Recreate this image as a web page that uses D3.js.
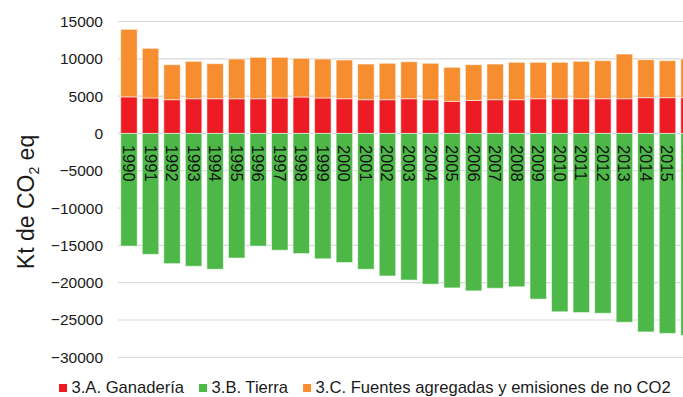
<!DOCTYPE html>
<html>
<head>
<meta charset="utf-8">
<script src="https://cdn.jsdelivr.net/npm/d3@7"></script>
<style>
  html, body { margin: 0; padding: 0; background: #fff; }
  svg { display: block; font-family: "Liberation Sans", Arial, sans-serif; }
</style>
</head>
<body>
<svg id="chart" width="683" height="397"></svg>
<script>
// Agricultural sector emissions/removals by sub-category (kt CO2 eq)
const years = ["1990","1991","1992","1993","1994","1995","1996","1997","1998","1999",
               "2000","2001","2002","2003","2004","2005","2006","2007","2008","2009",
               "2010","2011","2012","2013","2014","2015","2016"];
const ganaderia = [4900,4750,4520,4650,4650,4650,4650,4750,4880,4750,
                   4650,4520,4520,4650,4520,4300,4430,4520,4520,4650,
                   4650,4650,4650,4650,4790,4790,4790];
const tierra = [-15100,-16200,-17450,-17800,-18200,-16700,-15100,-15650,-16100,-16800,
                -17300,-18200,-19100,-19650,-20200,-20700,-21100,-20750,-20550,-22200,
                -23900,-24000,-24100,-25300,-26600,-26800,-27050];
const fuentes = [9050,6650,4690,5010,4700,5320,5550,5450,5180,5220,
                 5190,4780,4880,4960,4880,4560,4780,4780,5010,4880,
                 4880,5010,5100,5990,5090,4960,5180];
const seriesNames = ["3.A. Ganadería", "3.B. Tierra", "3.C. Fuentes agregadas y emisiones de no CO2"];
const yTicks = [15000,10000,5000,0,-5000,-10000,-15000,-20000,-25000,-30000];

const colors = ["#ED1C24", "#4DB848", "#F68E2F"];
const keys = ["a", "b", "c"];
const rows = years.map((y, i) => ({ year: y, a: ganaderia[i], b: tierra[i], c: fuentes[i] }));

const svg = d3.select("#chart");

const x = d3.scaleBand()
  .domain(years)
  .range([118.2, 699.8])
  .paddingInner(0.234)
  .paddingOuter(0.117);

const y = d3.scaleLinear()
  .domain([-30000, 15000])
  .range([357.3, 21.5]);

// gridlines
svg.append("g")
  .selectAll("line")
  .data(yTicks)
  .join("line")
  .attr("x1", 118)
  .attr("x2", 683)
  .attr("y1", d => y(d))
  .attr("y2", d => y(d))
  .attr("stroke", "#d9d9d9")
  .attr("stroke-width", 1.2);

// y axis labels
const yAxis = d3.axisLeft(y).tickValues(yTicks).tickSize(0).tickPadding(0).tickFormat(d3.format("d"));
const gy = svg.append("g").attr("transform", "translate(103,0)").call(yAxis);
gy.select(".domain").remove();
gy.selectAll("text")
  .attr("font-size", "15.5px")
  .attr("font-family", "'Liberation Sans', Arial, sans-serif")
  .attr("fill", "#1a1a1a");

// stacked bars
const stack = d3.stack().keys(keys).offset(d3.stackOffsetDiverging);
const layers = stack(rows);

svg.append("g")
  .selectAll("g")
  .data(layers)
  .join("g")
  .attr("fill", (d, i) => colors[i])
  .selectAll("rect")
  .data(d => d)
  .join("rect")
  .attr("x", d => x(d.data.year))
  .attr("width", x.bandwidth())
  .attr("y", d => y(d[1]))
  .attr("height", d => y(d[0]) - y(d[1]))
  .attr("stroke", "#ffffff")
  .attr("stroke-opacity", 0.55)
  .attr("stroke-width", 1);

// year labels inside the negative bars
svg.append("g")
  .selectAll("text")
  .data(years)
  .join("text")
  .attr("transform", d => `translate(${x(d) + x.bandwidth() / 2},${y(0) + 11.5}) rotate(90)`)
  .attr("dominant-baseline", "central")
  .attr("font-size", "16.5px")
  .attr("fill", "#111")
  .text(d => d);

// y axis title
const title = svg.append("text")
  .attr("transform", "translate(34,202) rotate(-90)")
  .attr("text-anchor", "middle")
  .attr("font-size", "23px")
  .attr("fill", "#1a1a1a");
title.append("tspan").text("Kt de CO");
title.append("tspan").attr("font-size", "14px").attr("dy", "5").text("2");
title.append("tspan").attr("dy", "-5").text(" eq");

// legend
const legend = svg.append("g").attr("transform", "translate(59,387.5)");
let lx = 0;
seriesNames.forEach((name, i) => {
  legend.append("rect")
    .attr("x", lx)
    .attr("y", -3.5)
    .attr("width", 8)
    .attr("height", 8)
    .attr("fill", colors[i]);
  const t = legend.append("text")
    .attr("x", lx + 12.5)
    .attr("y", 0)
    .attr("dominant-baseline", "central")
    .attr("font-size", "16.6px")
    .attr("fill", "#1a1a1a")
    .text(name);
  lx += 12.5 + t.node().getComputedTextLength() + 15;
});
</script>
</body>
</html>
